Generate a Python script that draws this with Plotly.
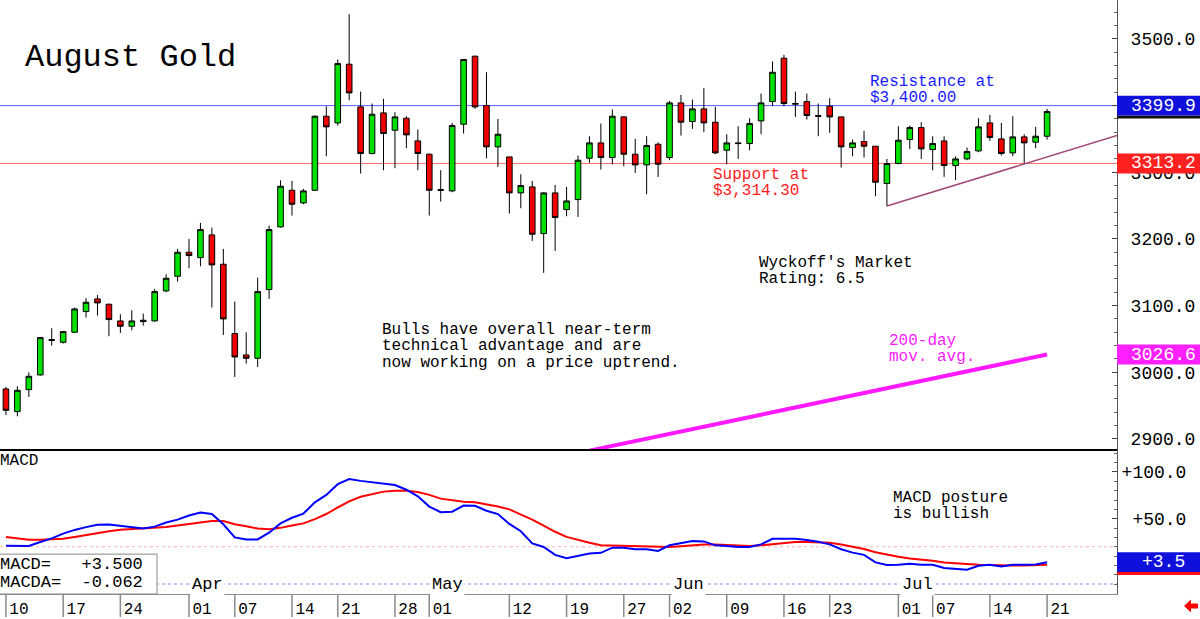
import plotly.graph_objects as go

# ---------------- data ----------------
open_ = [2975, 2941, 2974, 2996, 3049, 3045, 3060, 3091, 3110, 3102,
         3077, 3069, 3078, 3077, 3122, 3144, 3180, 3172, 3206, 3162,
         3058, 3026, 3021, 3124, 3218, 3273, 3254, 3273, 3384, 3374,
         3462, 3398, 3328, 3389, 3363, 3381, 3347, 3327, 3274, 3272,
         3372, 3474, 3400, 3338, 3323, 3269, 3278, 3208, 3269, 3244,
         3259, 3321, 3344, 3322, 3383, 3327, 3311, 3342, 3322, 3404,
         3376, 3395, 3375, 3333, 3344, 3343, 3377, 3406, 3471, 3402,
         3406, 3385, 3399, 3383, 3337, 3346, 3339, 3283, 3313, 3349,
         3367, 3334, 3347, 3310, 3320, 3332, 3374, 3350, 3329, 3353,
         3345, 3354]
high = [2978, 2979, 3000, 3053, 3066, 3062, 3097, 3111, 3116, 3103,
        3087, 3093, 3088, 3125, 3147, 3185, 3200, 3224, 3217, 3185,
        3106, 3060, 3142, 3220, 3288, 3287, 3275, 3385, 3399, 3469,
        3537, 3421, 3403, 3410, 3390, 3384, 3364, 3328, 3303, 3374,
        3469, 3475, 3450, 3380, 3323, 3297, 3287, 3270, 3281, 3278,
        3325, 3354, 3373, 3394, 3384, 3350, 3354, 3345, 3407, 3416,
        3409, 3426, 3398, 3357, 3369, 3381, 3418, 3466, 3476, 3421,
        3418, 3403, 3411, 3383, 3349, 3362, 3339, 3320, 3369, 3370,
        3375, 3354, 3354, 3324, 3337, 3381, 3386, 3374, 3384, 3357,
        3368, 3395]
low = [2936, 2934, 2963, 2995, 3040, 3043, 3059, 3082, 3085, 3054,
       3059, 3063, 3070, 3076, 3120, 3136, 3156, 3159, 3097, 3056,
       2993, 3013, 3008, 3110, 3217, 3235, 3252, 3272, 3324, 3370,
       3408, 3298, 3327, 3303, 3306, 3336, 3303, 3235, 3256, 3270,
       3358, 3395, 3321, 3308, 3238, 3246, 3197, 3149, 3182, 3234,
       3233, 3314, 3304, 3312, 3309, 3299, 3267, 3293, 3318, 3355,
       3365, 3360, 3327, 3312, 3320, 3333, 3357, 3399, 3399, 3383,
       3379, 3354, 3359, 3307, 3324, 3322, 3264, 3249, 3312, 3335,
       3320, 3303, 3293, 3288, 3318, 3330, 3347, 3325, 3324, 3312,
       3336, 3349]
close = [2943, 2973, 2994, 3052, 3048, 3061, 3095, 3105, 3104, 3079,
         3069, 3077, 3076, 3121, 3141, 3180, 3175, 3214, 3161, 3080,
         3023, 3021, 3121, 3214, 3279, 3252, 3272, 3384, 3368, 3463,
         3419, 3328, 3387, 3358, 3383, 3356, 3328, 3273, 3273, 3370,
         3469, 3398, 3338, 3357, 3269, 3280, 3207, 3269, 3232, 3257,
         3318, 3344, 3322, 3384, 3327, 3311, 3340, 3312, 3404, 3375,
         3395, 3374, 3329, 3344, 3343, 3373, 3404, 3450, 3403, 3403,
         3385, 3384, 3383, 3338, 3344, 3339, 3285, 3313, 3348, 3367,
         3335, 3343, 3310, 3320, 3331, 3368, 3352, 3328, 3353, 3344,
         3354, 3391]

macd = [21.0, 20.8, 20.8, 25.0, 29.0, 34.0, 38.0, 41.0, 43.5, 43.7,
        42.5, 40.5, 39.4, 41.5, 46.0, 49.0, 53.5, 56.7, 55.0, 44.0,
        30.0, 27.8, 27.8, 35.0, 45.0, 51.0, 55.5, 67.5, 75.5, 87.0,
        92.5, 90.5, 89.0, 87.0, 86.0, 81.0, 74.0, 63.0, 57.0, 57.5,
        64.0, 63.8, 58.5, 55.0, 44.4, 36.6, 23.6, 19.7, 11.3, 7.7,
        10.2, 12.7, 13.5, 19.0, 19.0, 17.3, 17.3, 15.5, 21.5, 23.6,
        26.0, 25.7, 21.5, 20.8, 19.7, 19.7, 22.5, 28.5, 28.9, 28.5,
        27.1, 25.4, 22.5, 17.3, 13.7, 11.3, 3.2, 0.4, 0.7, 1.8,
        0.7, 0.7, -2.8, -3.5, -4.6, -0.4, 0.7, -1.1, 0.7, 0.7,
        1.1, 3.5]
signal = [30.5, 29.0, 27.5, 27.5, 27.7, 28.5, 30.3, 32.5, 34.5, 36.5,
          38.2, 39.0, 39.4, 40.3, 41.2, 42.8, 44.2, 46.2, 47.6, 47.5,
          44.0, 42.0, 39.5, 38.8, 40.2, 42.8, 45.0, 49.5, 55.0, 62.0,
          68.5, 73.5, 76.5, 79.0, 80.0, 80.0, 78.5, 75.5, 71.5, 69.5,
          68.2, 67.5, 65.5, 63.1, 60.0, 54.5, 49.0, 42.5, 36.0, 30.5,
          27.0, 24.3, 21.5, 21.2, 20.8, 20.2, 19.7, 19.3, 19.6, 20.4,
          21.8, 22.5, 22.5, 22.2, 21.5, 20.8, 21.5, 22.5, 24.0, 25.0,
          25.0, 24.7, 24.3, 22.5, 20.4, 17.6, 14.1, 11.3, 9.2, 7.4,
          6.3, 4.9, 3.2, 2.1, 1.4, 0.7, 0.4, -0.4, 0.0, 0.0,
          0.4, 0.7]

ma200_first_day = 51
ma200 = [2882.5, 2886, 2889.7, 2893.3, 2896.9, 2900.5, 2904, 2907.6, 2911.2, 2914.8,
         2918.4, 2922, 2925.6, 2929.2, 2932.8, 2936.4, 2940, 2943.6, 2947.2, 2950.8,
         2954.4, 2958, 2961.6, 2965.2, 2968.8, 2972.4, 2976, 2979.6, 2983.2, 2986.8,
         2990.4, 2994, 2997.6, 3001.2, 3004.8, 3008.4, 3012, 3015.6, 3019.2, 3022.9,
         3026.6]

tick_days = [0, 5, 10, 16, 20, 25, 29, 34, 37, 44, 49, 54, 58, 63, 68, 72, 78, 81, 86, 91]
tick_labels = ["10", "17", "24", "01", "07", "14", "21", "28", "01", "12",
               "19", "27", "02", "09", "16", "23", "01", "07", "14", "21"]
month_days = [16, 37, 58, 78]
month_labels = ["Apr", "May", "Jun", "Jul"]

price_ticks = [2900, 3000, 3100, 3200, 3300, 3400, 3500]
macd_ticks = [50, 100]

resistance = 3399.9
support = 3313.2
ma_last = 3026.6
macd_last = 3.5
signal_last = 0.7
trend_days = [77, 97.11]
trend_prices = [3249.4, 3355.0]
macd_upper = 20
macd_lower = -20

# ---------------- layout geometry ----------------
FIG_W, FIG_H = 1200, 619
R_MARGIN, B_MARGIN = 83, 23
PW = FIG_W - R_MARGIN          # plot width  (1117)
PH = FIG_H - B_MARGIN          # plot height (596)
SPLIT = 451                    # pixel row of price / macd split
P_RANGE = [2884.2, 3558.3]
M_RANGE = [-30.6, 124.1]
X_RANGE = [-0.52, 97.11]
MONO = "Liberation Mono"


def pxx(x):
    return x / PW


def pxy(y):
    return 1 - y / PH


def price_px(p):
    return (P_RANGE[1] - p) / (P_RANGE[1] - P_RANGE[0]) * SPLIT


def macd_px(v):
    return SPLIT + (M_RANGE[1] - v) / (M_RANGE[1] - M_RANGE[0]) * (PH - SPLIT)


days = list(range(len(open_)))
fig = go.Figure()

fig.add_trace(go.Candlestick(
    x=days, open=open_, high=high, low=low, close=close,
    increasing=dict(line=dict(color="black", width=1), fillcolor="#00e000"),
    decreasing=dict(line=dict(color="black", width=1), fillcolor="#f00000"),
    whiskerwidth=0, xaxis="x", yaxis="y", hoverinfo="skip"))

fig.add_trace(go.Scatter(
    x=list(range(ma200_first_day, ma200_first_day + len(ma200))), y=ma200,
    mode="lines", line=dict(color="#ff1aff", width=4), xaxis="x", yaxis="y",
    hoverinfo="skip"))

fig.add_trace(go.Scatter(
    x=trend_days, y=trend_prices, mode="lines",
    line=dict(color="#a04a78", width=1.5), xaxis="x", yaxis="y", hoverinfo="skip"))

fig.add_trace(go.Scatter(
    x=days, y=signal, mode="lines", line=dict(color="#ff0000", width=2),
    xaxis="x2", yaxis="y2", hoverinfo="skip"))
fig.add_trace(go.Scatter(
    x=days, y=macd, mode="lines", line=dict(color="#0000ff", width=2),
    xaxis="x2", yaxis="y2", hoverinfo="skip"))

shapes = []
# support / resistance lines
shapes.append(dict(type="line", xref="paper", yref="y", x0=0, x1=1, y0=resistance, y1=resistance,
                   line=dict(color="#5a5aff", width=1), layer="below"))
shapes.append(dict(type="line", xref="paper", yref="y", x0=0, x1=1, y0=support, y1=support,
                   line=dict(color="#ff6a6a", width=1), layer="below"))
# macd reference lines
shapes.append(dict(type="line", xref="paper", yref="y2", x0=0, x1=1, y0=macd_upper, y1=macd_upper,
                   line=dict(color="#ffb4b4", width=1, dash="dot"), layer="below"))
shapes.append(dict(type="line", xref="paper", yref="y2", x0=0, x1=1, y0=macd_lower, y1=macd_lower,
                   line=dict(color="#b4b4ff", width=1.5, dash="dot"), layer="below"))


# value boxes on the right axis
def value_box(ypix, color, h=20):
    return dict(type="rect", xref="paper", yref="paper", x0=1.0, x1=FIG_W / PW,
                y0=pxy(ypix + h / 2), y1=pxy(ypix - h / 2),
                fillcolor=color, line=dict(width=0), layer="above")


yb = price_px(resistance)
shapes.append(dict(type="rect", xref="paper", yref="paper", x0=1.0, x1=FIG_W / PW,
                   y0=pxy(yb + 13), y1=pxy(yb + 10), fillcolor="#101010", line=dict(width=0), layer="above"))
shapes.append(value_box(yb, "#1010dd"))
shapes.append(value_box(price_px(support), "#ff2020"))
shapes.append(value_box(price_px(ma_last), "#ff20ff"))
ym = macd_px(macd_last)
shapes.append(dict(type="rect", xref="paper", yref="paper", x0=1.0, x1=FIG_W / PW,
                   y0=pxy(ym + 13), y1=pxy(ym + 9.5), fillcolor="#ff1010", line=dict(width=0), layer="above"))
shapes.append(value_box(ym, "#1010dd"))

# MACD info box
shapes.append(dict(type="rect", xref="paper", yref="paper", x0=pxx(-1), x1=pxx(157),
                   y0=pxy(596), y1=pxy(556), fillcolor="white",
                   line=dict(color="#8a8a8a", width=1), layer="above"))

# date tick marks below the chart
for d in tick_days:
    shapes.append(dict(type="line", xref="x2", yref="paper", x0=d, x1=d,
                       y0=0, y1=pxy(FIG_H), line=dict(color="#8a8a8a", width=1.5)))

# red arrow bottom right
pts = [(1184, 608), (1191, 601.5), (1191, 605.5), (1198, 605.5), (1198, 610.5), (1191, 610.5), (1191, 614.5)]
path = "M " + " L ".join(f"{pxx(a):.5f},{pxy(b):.5f}" for a, b in pts) + " Z"
shapes.append(dict(type="path", xref="paper", yref="paper", path=path,
                   fillcolor="#ff0000", line=dict(width=0)))

annotations = []


def text(x, y, s, color="black", size=16, anchor="left", bg=None):
    a = dict(xref="paper", yref="paper", x=pxx(x), y=pxy(y), text=s, showarrow=False,
             xanchor=anchor, yanchor="middle", font=dict(family=MONO, size=size, color=color))
    if bg:
        a["bgcolor"] = bg
        a["borderpad"] = 0
    annotations.append(a)


text(23, 58, "August Gold", size=32)
text(868, 82, "Resistance at", color="#1a1aff")
text(868, 98, "$3,400.00", color="#1a1aff")
text(711, 176, "Support at", color="#ff1a1a")
text(711, 192, "$3,314.30", color="#ff1a1a")
text(757, 264, "Wyckoff's Market")
text(757, 280, "Rating: 6.5")
text(380, 331, "Bulls have overall near-term")
text(380, 347, "technical advantage and are")
text(380, 364, "now working on a price uptrend.")
text(887, 342, "200-day", color="#ff1aff")
text(887, 358, "mov. avg.", color="#ff1aff")
text(891, 500, "MACD posture")
text(891, 516, "is bullish")
text(-2, 463, "MACD", size=16)
text(-2, 566, "MACD=\u00a0\u00a0\u00a0+3.500", size=17)
text(-2, 584, "MACDA=\u00a0\u00a0-0.062", size=17)

# right value-box texts
text(1198, price_px(resistance), f"{resistance:.1f}", color="white", size=18, anchor="right")
text(1198, price_px(support), f"{support:.1f}", color="white", size=18, anchor="right")
text(1198, price_px(ma_last), f"{ma_last:.1f}", color="white", size=18, anchor="right")
text(1187, macd_px(macd_last), f"+{macd_last:.1f}", color="white", size=18, anchor="right")

# month labels on the dotted line
for d, m in zip(month_days, month_labels):
    annotations.append(dict(xref="x2", yref="paper", x=d + 0.1, y=pxy(586), text=m,
                            showarrow=False, xanchor="left", yanchor="middle",
                            bgcolor="white", borderpad=1,
                            font=dict(family=MONO, size=17, color="black")))

fig.update_layout(
    width=FIG_W, height=FIG_H,
    margin=dict(l=0, r=R_MARGIN, t=0, b=B_MARGIN, pad=0),
    paper_bgcolor="white", plot_bgcolor="white",
    showlegend=False, hovermode=False,
    shapes=shapes, annotations=annotations,
    xaxis=dict(domain=[0, 1], range=X_RANGE, anchor="y", matches="x2",
               showticklabels=False, ticks="", showgrid=False, zeroline=False,
               showline=True, linecolor="black", linewidth=2,
               rangeslider=dict(visible=False)),
    yaxis=dict(domain=[1 - SPLIT / PH, 1], range=P_RANGE, side="right", anchor="x",
               tickvals=price_ticks, ticktext=[f"{v:.1f}" for v in price_ticks],
               tickfont=dict(family=MONO, size=18, color="black"),
               ticks="inside", ticklen=5, tickcolor="#444", ticklabelstandoff=9,
               minor=dict(dtick=20, ticks="inside", ticklen=3, tickcolor="#666"),
               showgrid=False, zeroline=False,
               showline=True, linecolor="#555", linewidth=1),
    xaxis2=dict(domain=[0, 1], range=X_RANGE, anchor="y2",
                tickvals=tick_days, ticktext=tick_labels, ticks="",
                ticklabelshift=13,
                tickfont=dict(family=MONO, size=16, color="black"),
                showgrid=False, zeroline=False,
                showline=True, linecolor="#8a8a8a", linewidth=1),
    yaxis2=dict(domain=[0, 1 - SPLIT / PH], range=M_RANGE, side="right", anchor="x2",
                tickvals=macd_ticks, ticktext=["\u00a0+50.0", "+100.0"],
                tickfont=dict(family=MONO, size=18, color="black"),
                ticks="inside", ticklen=5, tickcolor="#444", ticklabelstandoff=0,
                minor=dict(dtick=10, ticks="inside", ticklen=3, tickcolor="#666"),
                showgrid=False, zeroline=False,
                showline=True, linecolor="#555", linewidth=1),
)

fig.write_html("out.html", config={"displayModeBar": False})
